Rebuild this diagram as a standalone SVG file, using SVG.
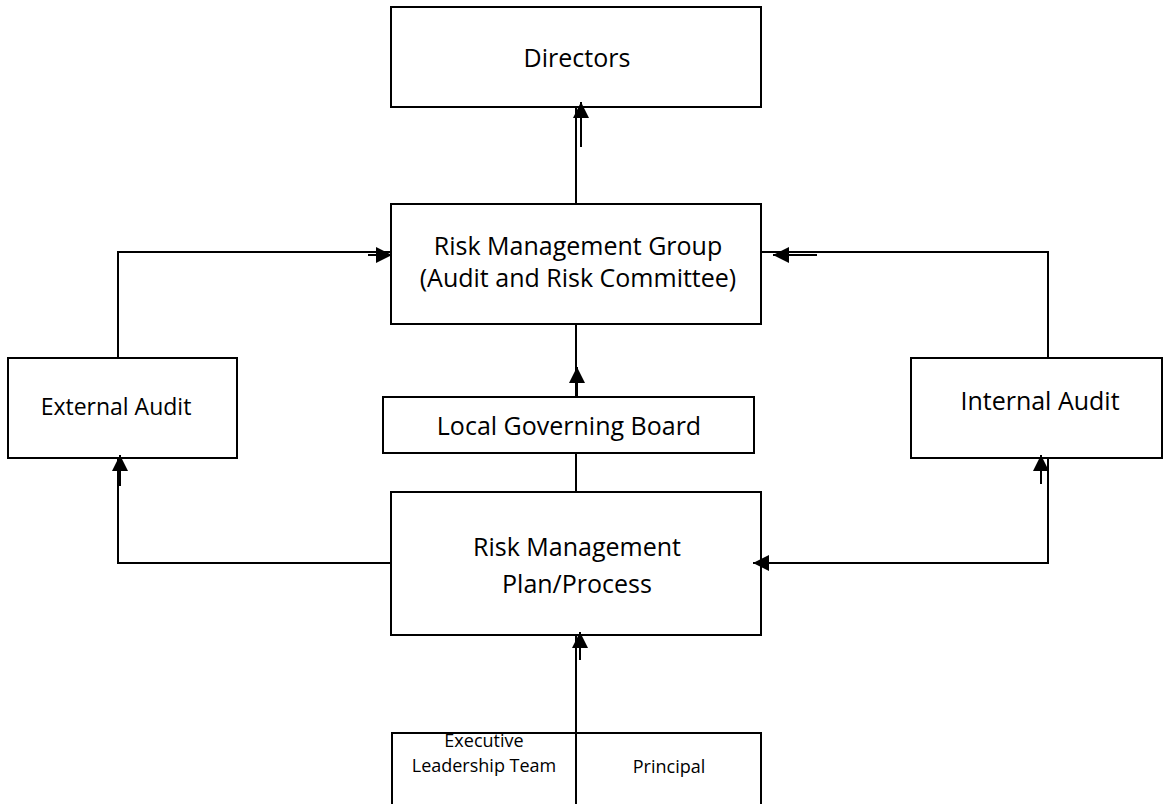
<svg xmlns="http://www.w3.org/2000/svg" width="1163" height="804" viewBox="0 0 1163 804">
<style>
.box{fill:#fff;stroke:#000;stroke-width:2}
.ln{fill:none;stroke:#000;stroke-width:2}
.st{fill:none;stroke:#000;stroke-width:2}
text{font-family:"Open Sans","Noto Sans",sans-serif;fill:#000;text-anchor:middle}
.t25{font-size:25px}
.t23{font-size:23px}
.t18{font-size:18px}
</style>
<defs>
<marker id="ah" markerUnits="userSpaceOnUse" markerWidth="17" markerHeight="16" refX="16" refY="8" orient="auto">
<path d="M0,0 L16,8 L0,16 Z" fill="#000"/>
</marker>
</defs>
<rect width="1163" height="804" fill="#fff"/>
<g id="directors">
<rect class="box" x="391" y="7" width="370" height="100"/>
<text class="t25" x="577" y="67">Directors</text>
</g>
<g id="rmg">
<rect class="box" x="391" y="204" width="370" height="120"/>
<text class="t25" x="578" y="255">Risk Management Group</text>
<text class="t25" x="578" y="287">(Audit and Risk Committee)</text>
</g>
<g id="lgb">
<rect class="box" x="383" y="397" width="371" height="56"/>
<text class="t25" x="569" y="435">Local Governing Board</text>
</g>
<g id="rmp">
<rect class="box" x="391" y="492" width="370" height="143"/>
<text class="t25" x="577" y="556">Risk Management</text>
<text class="t25" x="577" y="593">Plan/Process</text>
</g>
<g id="external">
<rect class="box" x="8" y="358" width="229" height="100"/>
<text class="t23" x="116" y="415">External Audit</text>
</g>
<g id="internal">
<rect class="box" x="911" y="358" width="251" height="100"/>
<text class="t25" x="1040" y="410">Internal Audit</text>
</g>
<g id="elt">
<rect class="box" x="392" y="733" width="184" height="80"/>
<text class="t18" x="484" y="747">Executive</text>
<text class="t18" x="484" y="772">Leadership Team</text>
</g>
<g id="principal">
<rect class="box" x="576" y="733" width="185" height="80"/>
<text class="t18" x="669" y="773">Principal</text>
</g>
<g id="connectors">
<path class="ln" d="M576,203 V108"/>
<path class="st" d="M581,147 V102" marker-end="url(#ah)"/>
<path class="ln" d="M576,397 V324"/>
<path class="st" d="M577,397 V367" marker-end="url(#ah)"/>
<path class="ln" d="M576,453 V492"/>
<path class="ln" d="M576,804 V636"/>
<path class="st" d="M580,660 V632" marker-end="url(#ah)"/>
<path class="ln" d="M391,563 H118 V458"/>
<path class="st" d="M120,486 V455" marker-end="url(#ah)"/>
<path class="ln" d="M118,358 V252 H391"/>
<path class="st" d="M368,255 H392" marker-end="url(#ah)"/>
<path class="ln" d="M1048,358 V252 H761"/>
<path class="st" d="M817,255 H773" marker-end="url(#ah)"/>
<path class="ln" d="M1048,458 V563 H761"/>
<path class="st" d="M778,563 H753" marker-end="url(#ah)"/>
<path class="st" d="M1041,484 V455" marker-end="url(#ah)"/>
</g>
</svg>
